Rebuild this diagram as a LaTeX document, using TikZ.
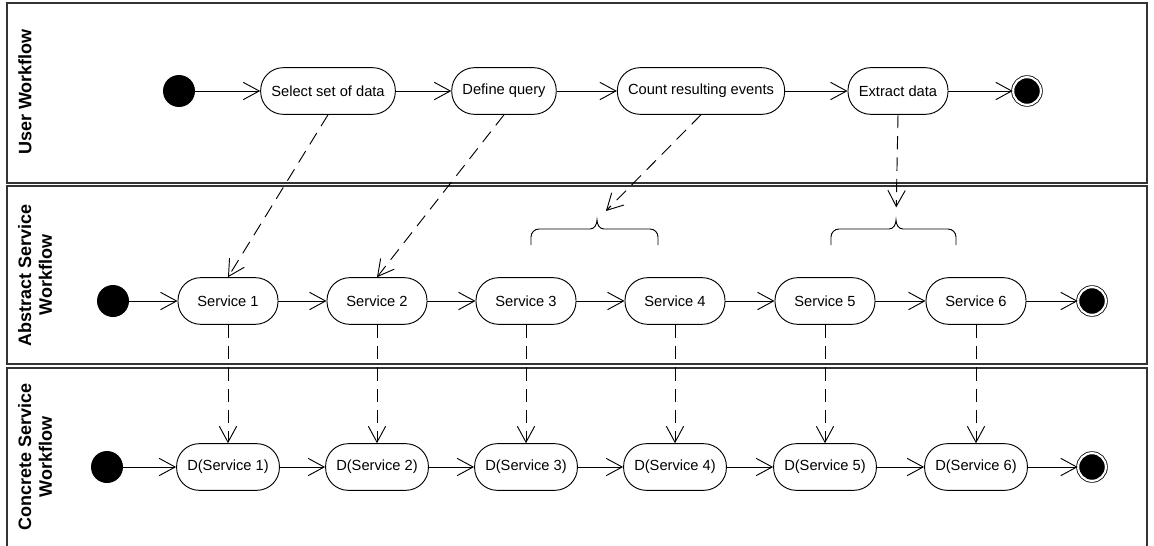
\documentclass[tikz,border=0pt]{standalone}
\usepackage{fontspec}
\setmainfont{Liberation Sans}
\usetikzlibrary{arrows.meta, positioning}

\tikzset{
  lane/.style={draw=black!80, line width=0.9pt},
  lanelabel/.style={rotate=90, align=center, font=\fontsize{13.5}{15.5}\selectfont\bfseries},
  action/.style={draw, line width=0.7pt, rounded corners=17pt, minimum width=75pt,
    minimum height=35pt, inner xsep=8pt, font=\fontsize{11}{13}\selectfont},
  initial/.style={circle, fill=black, minimum size=24pt, inner sep=0pt},
  final/.style={circle, fill=black, draw, double=white, double distance=1.6pt,
    line width=0.6pt, minimum size=20.8pt, inner sep=0pt},
  flow/.style={-{Straight Barb[length=12pt,width=13pt]}, line width=0.7pt},
  maps/.style={flow, dash pattern=on 10pt off 6pt},
}

\begin{document}
\begin{tikzpicture}[x=0.75pt, y=-0.75pt]
  \useasboundingbox (0,0) rectangle (1154,546);

  % swimlanes
  \draw[lane] (7,3) rectangle (1147,183);
  \draw[lane] (7,186) rectangle (1147,364);
  \draw[lane] (7,546) -- (7,368) -- (1147,368) -- (1147,546);
  \node[lanelabel] (lu) at (25,92) {User Workflow};
  \node[lanelabel] (la) at (35,275) {Abstract Service\\Workflow};
  \node[lanelabel] (lc) at (35,457) {Concrete Service\\Workflow};

  % user workflow
  \node[initial] (u0) at (179,91) {};
  \node[action] (sel) at (328,91) {Select set of data};
  \node[action] (qry) at (504,91) {Define query};
  \node[action] (cnt) at (701,91) {Count resulting events};
  \node[action] (ext) at (898,91) {Extract data};
  \node[final] (u9) at (1027,91) {};
  \draw[flow] (u0) -- (sel);
  \draw[flow] (sel) -- (qry);
  \draw[flow] (qry) -- (cnt);
  \draw[flow] (cnt) -- (ext);
  \draw[flow] (ext) -- (u9);

  % abstract and concrete services
  \node[initial] (a0) at (113,301) {};
  \node[final] (a9) at (1092,301) {};
  \node[initial] (c0) at (107,467) {};
  \node[final] (c9) at (1092,467) {};
  \foreach \i/\x in {1/228, 2/377, 3/526, 4/675, 5/825, 6/976} {
    \node[action] (s\i) at (\x,301) {Service \i};
    \node[action] (d\i) at (\x,467) {D(Service \i)};
    \draw[maps] (s\i) -- (d\i);
  }
  \draw[flow] (a0) -- (s1);
  \draw[flow] (c0) -- (d1);
  \foreach \i/\j in {1/2, 2/3, 3/4, 4/5, 5/6} {
    \draw[flow] (s\i) -- (s\j);
    \draw[flow] (d\i) -- (d\j);
  }
  \draw[flow] (s6) -- (a9);
  \draw[flow] (d6) -- (c9);

  % braces over grouped services
  \foreach \l/\m/\r/\n in {531/597/658/b1, 831/896/956/b2} {
    \draw[line width=0.7pt] (\l,245) -- (\l,237) to[out=90,in=180] (\l+8,229)
      -- (\m-7,229) to[out=0,in=-90] (\m,220) to[out=-90,in=180] (\m+7,229)
      -- (\r-8,229) to[out=0,in=90] (\r,237) -- (\r,245);
    \coordinate (\n) at (\m,220);
  }

  % refinement
  \draw[maps] (sel.south) -- (s1.north);
  \draw[maps] (qry.south) -- (s2.north);
  \draw[maps, shorten >=9.5pt] (cnt.south) -- (b1);
  \draw[maps, shorten >=9.5pt] (ext.south) -- (b2);
\end{tikzpicture}
\end{document}
